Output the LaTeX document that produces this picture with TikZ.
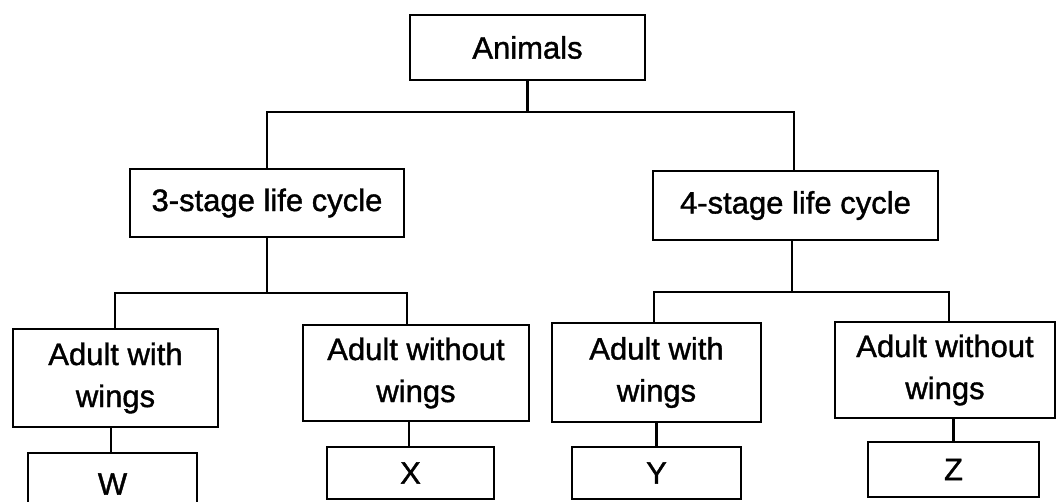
\documentclass[tikz,border=0pt]{standalone}
\usepackage{fontspec}
\setmainfont{Liberation Sans}
\newfontfamily\boxfont{Liberation Sans}[FakeBold=1.2]
\begin{document}
\begin{tikzpicture}[x=1pt,y=-1pt,
  box/.style={draw=black,line width=2.2pt,fill=white,inner sep=0pt,align=center,
    font=\boxfont\fontsize{31}{42}\selectfont},
  link/.style={line width=2.2pt,line cap=rect}]
\useasboundingbox (0,0) rectangle (1057,501);
\fill[white] (0,0) rectangle (1057,501);
% nodes
\node[box,minimum width=235pt,minimum height=65pt] (animals) at (527.5,47.5) {Animals};
\node[box,minimum width=274pt,minimum height=68pt] (three) at (267,203) {3-stage life cycle};
\node[box,minimum width=285pt,minimum height=69pt] (four) at (795.5,205.5) {4-stage life cycle};
\node[box,minimum width=205pt,minimum height=98pt] (awl) at (115.5,378) {Adult with\\wings};
\node[box,minimum width=226pt,minimum height=96pt] (awol) at (416,373) {Adult without\\wings};
\node[box,minimum width=209pt,minimum height=99pt] (awr) at (656.5,372.5) {Adult with\\wings};
\node[box,minimum width=220pt,minimum height=96pt] (awor) at (945,370) {Adult without\\wings};
\node[box,minimum width=169pt,minimum height=62pt] (w) at (112.5,484) {W};
\node[box,minimum width=167pt,minimum height=52pt] (x) at (410.5,473) {X};
\node[box,minimum width=169pt,minimum height=52pt] (y) at (656.5,473) {Y};
\node[box,minimum width=171pt,minimum height=55pt] (z) at (953.5,469.5) {Z};
% junction coordinates
\coordinate (t3) at (267,112);
\coordinate (t4) at (794,112);
\coordinate (f4) at (794,0);
\coordinate (m3) at (267,293);
\coordinate (l3) at (115,293);
\coordinate (r3) at (407,293);
\coordinate (m4) at (792,292);
\coordinate (g4) at (792,0);
\coordinate (l4) at (654,292);
\coordinate (r4) at (949,292);
% connectors
\draw[link] (animals.south) -- (animals.south |- t3);
\draw[link] (three.north) -- (t3) -- (t4) -- (f4 |- four.north);
\draw[link] (three.south) -- (m3);
\draw[link] (l3 |- awl.north) -- (l3) -- (r3) -- (r3 |- awol.north);
\draw[link] (g4 |- four.south) -- (m4);
\draw[link] (l4 |- awr.north) -- (l4) -- (r4) -- (r4 |- awor.north);
\draw[link] ([xshift=-1.5pt]w.north) -- ([xshift=-1.5pt]w.north |- awl.south);
\draw[link] ([xshift=-1.5pt]x.north) -- ([xshift=-1.5pt]x.north |- awol.south);
\draw[link] (y.north) -- (y.north |- awr.south);
\draw[link] (z.north) -- (z.north |- awor.south);
\end{tikzpicture}
\end{document}
